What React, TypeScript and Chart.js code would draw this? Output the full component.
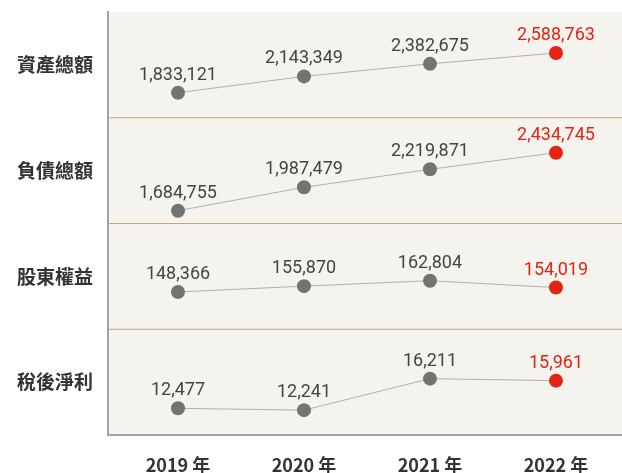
import React, { useEffect, useRef } from "react";
import { Chart, registerables } from "chart.js";

Chart.register(...registerables);

const years = ["2019 年", "2020 年", "2021 年", "2022 年"];
const metrics = ["資產總額", "負債總額", "股東權益", "稅後淨利"];
const totalAssets = [1833121, 2143349, 2382675, 2588763];
const totalLiabilities = [1684755, 1987479, 2219871, 2434745];
const shareholdersEquity = [148366, 155870, 162804, 154019];
const netIncome = [12477, 12241, 16211, 15961];
const seriesList = [totalAssets, totalLiabilities, shareholdersEquity, netIncome];
const axisMin = [1356300, 1519200, 100760, 9113];
const axisMax = [3369200, 2886700, 235900, 22437];

const GRAY = "#737373";
const RED = "#e42313";
const LINE = "#b0b0b0";
const TEXT = "#444444";
const BEIGE = "#f5f3ee";
const SEP = "#c2a67f";
const AXIS = "#a3a3a3";

const fmt = (v: number) => v.toLocaleString("en-US");

const panelPlugin = {
  id: "panels",
  beforeDraw(chart: any) {
    const { ctx, chartArea } = chart;
    const { left, top, right, bottom } = chartArea;
    ctx.save();
    ctx.fillStyle = BEIGE;
    ctx.fillRect(left, top, right - left, bottom - top);
    ctx.strokeStyle = SEP;
    ctx.lineWidth = 1.2;
    for (let i = 1; i < metrics.length; i++) {
      const s = chart.scales["y" + i];
      ctx.beginPath();
      ctx.moveTo(left, s.top);
      ctx.lineTo(right, s.top);
      ctx.stroke();
    }
    ctx.restore();
  },
};

const labelPlugin = {
  id: "pointLabels",
  afterDatasetsDraw(chart: any) {
    const { ctx } = chart;
    ctx.save();
    ctx.font = "18px Roboto";
    ctx.textAlign = "center";
    ctx.textBaseline = "alphabetic";
    chart.data.datasets.forEach((ds: any, di: number) => {
      const meta = chart.getDatasetMeta(di);
      meta.data.forEach((el: any, i: number) => {
        ctx.fillStyle = i === years.length - 1 ? RED : TEXT;
        ctx.fillText(fmt(ds.data[i].y), el.x, el.y - 13);
      });
    });
    ctx.restore();
  },
};

export default function App() {
  const ref = useRef<HTMLCanvasElement>(null);

  useEffect(() => {
    if (!ref.current) return;
    const scales: any = {
      x: {
        type: "linear",
        min: -0.5556,
        max: 3.524,
        grid: { display: false, drawTicks: false },
        border: { display: true, color: AXIS, width: 2 },
        afterBuildTicks: (s: any) => {
          s.ticks = years.map((_, i) => ({ value: i }));
        },
        afterFit: (s: any) => {
          s.height = 38;
          s.paddingLeft = 0;
          s.paddingRight = 0;
        },
        ticks: {
          padding: 19,
          color: "#333333",
          font: { family: "'Noto Sans CJK TC', Roboto", size: 18, weight: "bold" },
          callback: (v: any) => years[v as number] ?? "",
        },
      },
    };
    metrics.forEach((name, i) => {
      scales["y" + i] = {
        type: "linear",
        position: "left",
        stack: "panels",
        stackWeight: 1,
        weight: metrics.length - i,
        min: axisMin[i],
        max: axisMax[i],
        grid: { display: false, drawTicks: false },
        border: { display: true, color: AXIS, width: 2 },
        afterBuildTicks: (s: any) => {
          s.ticks = [{ value: (axisMin[i] + axisMax[i]) / 2 }];
        },
        afterFit: (s: any) => {
          s.width = 108;
          s.paddingTop = 0;
          s.paddingBottom = 0;
        },
        ticks: {
          padding: 15,
          color: "#333333",
          font: { family: "'Noto Sans CJK TC'", size: 19, weight: "bold" },
          callback: () => name,
        },
      };
    });

    const chart = new Chart(ref.current, {
      type: "line",
      data: {
        datasets: seriesList.map((vals, i) => ({
          label: metrics[i],
          data: vals.map((v, j) => ({ x: j, y: v })),
          yAxisID: "y" + i,
          xAxisID: "x",
          borderColor: LINE,
          borderWidth: 1,
          pointRadius: 7,
          pointBorderWidth: 0,
          pointBackgroundColor: vals.map((_, j) => (j === vals.length - 1 ? RED : GRAY)),
          pointBorderColor: vals.map((_, j) => (j === vals.length - 1 ? RED : GRAY)),
          tension: 0,
          clip: false as any,
        })),
      },
      options: {
        responsive: false,
        animation: false,
        layout: { autoPadding: false, padding: { top: 12, left: 0, right: 0, bottom: 0 } },
        plugins: {
          legend: { display: false },
          tooltip: { enabled: false },
        },
        scales,
      },
      plugins: [panelPlugin, labelPlugin],
    });
    return () => chart.destroy();
  }, []);

  return (
    <div style={{ position: "fixed", left: 0, top: 0, width: 622, height: 473, background: "#fff" }}>
      <canvas ref={ref} width={622} height={473} style={{ display: "block" }} />
    </div>
  );
}
